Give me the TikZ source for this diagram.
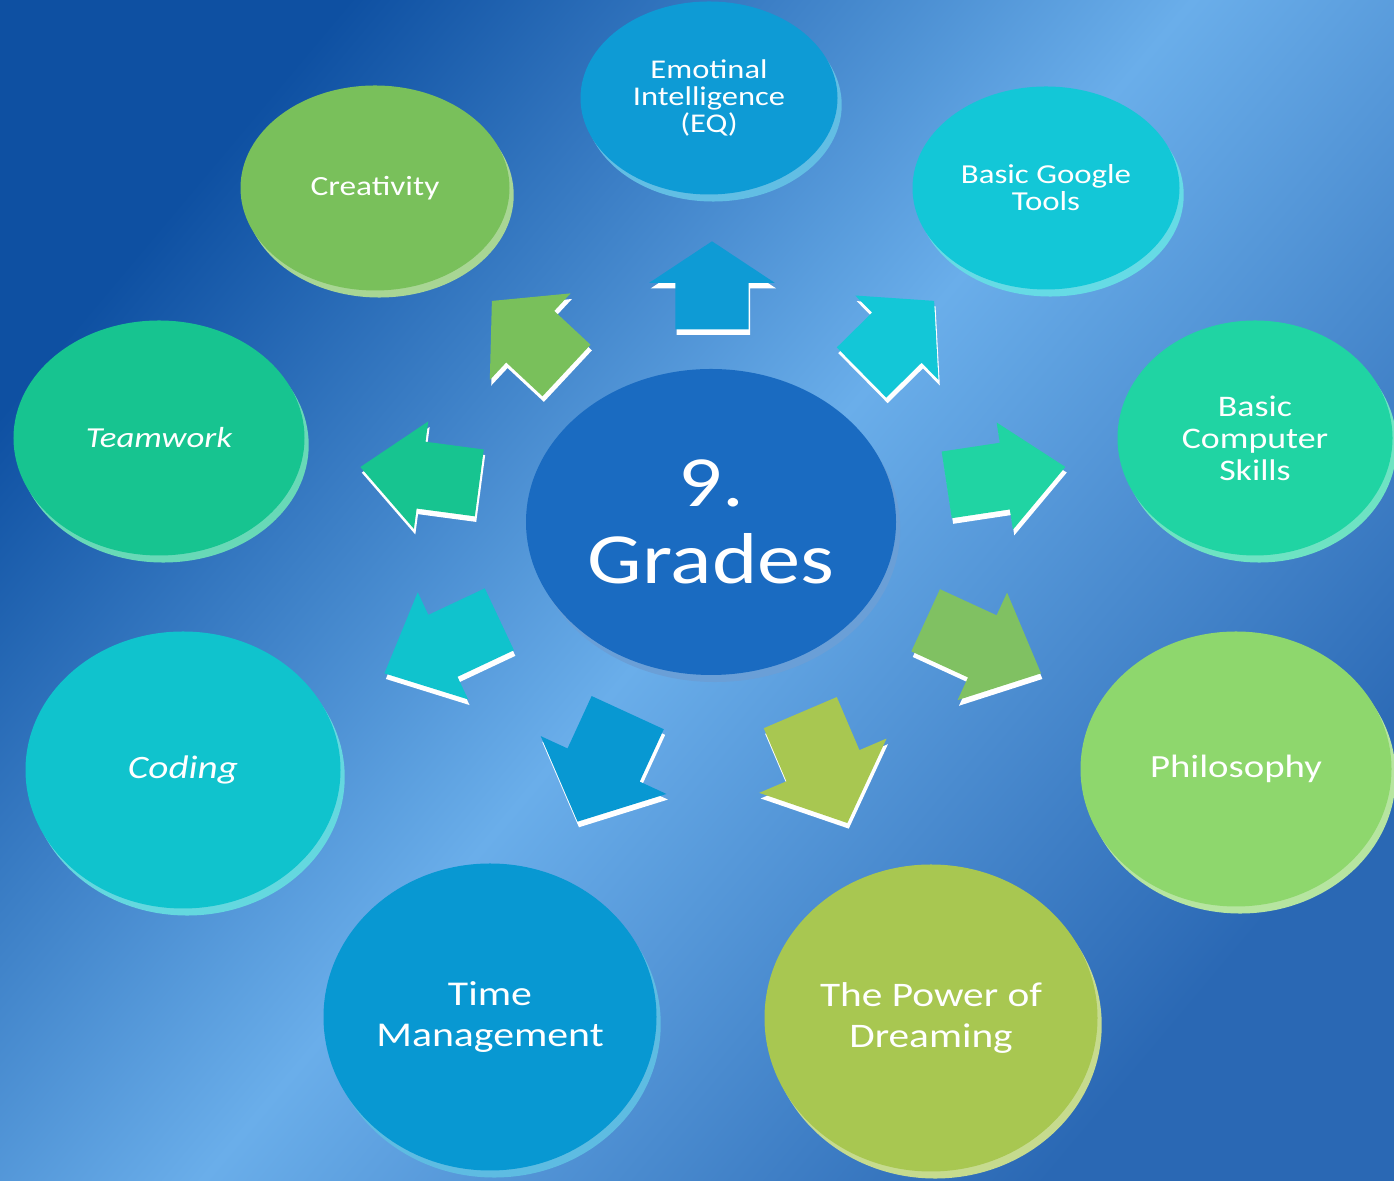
\documentclass[tikz,border=0pt]{standalone}
\usepackage{fontspec}
\setmainfont{Carlito}[FakeStretch=1.2]
\usetikzlibrary{positioning,calc,shapes.geometric,shapes.arrows,shadows}

\definecolor{bgdark}{HTML}{0E50A2}
\definecolor{bglight}{HTML}{6AAEEA}
\definecolor{bgmid}{HTML}{2A68B4}
\definecolor{hubblue}{HTML}{1A6BC1}
\definecolor{eqblue}{HTML}{0E9BD5}
\definecolor{googleteal}{HTML}{13C7D7}
\definecolor{compgreen}{HTML}{20D4A3}
\definecolor{philogreen}{HTML}{8ED76D}
\definecolor{dreamolive}{HTML}{A8C751}
\definecolor{timeblue}{HTML}{0898D2}
\definecolor{codecyan}{HTML}{10C3CD}
\definecolor{teamgreen}{HTML}{17C490}
\definecolor{creagreen}{HTML}{79C05B}

\tikzset{
  disc/.style={ellipse, inner sep=0pt, align=center, text=white, fill=#1,
    drop shadow={shadow xshift=1.2pt, shadow yshift=-2pt, fill=#1!65!white, opacity=1}},
  grarrow/.style={single arrow, anchor=tail, inner xsep=0pt, draw=none, single arrow head indent=0pt},
  arrowup/.style={grarrow, inner ysep=3.6mm, minimum height=8.8mm, minimum width=12.4mm,
    single arrow head extend=2.6mm, single arrow tip angle=113},
  arrowdiag/.style={grarrow, inner ysep=3.45mm, minimum height=10.2mm, minimum width=11.7mm,
    single arrow head extend=2.4mm, single arrow tip angle=97},
  arrowside/.style={grarrow, inner ysep=3.3mm, minimum height=12mm, minimum width=10.7mm,
    single arrow head extend=2.05mm, single arrow tip angle=83},
  arrowslant/.style={grarrow, inner ysep=3.35mm, minimum height=12.7mm, minimum width=11.7mm,
    single arrow head extend=2.5mm, single arrow tip angle=85},
  arrowdown/.style={grarrow, inner ysep=3.9mm, minimum height=12mm, minimum width=13.7mm,
    single arrow head extend=2.95mm, single arrow tip angle=96},
}
\newcommand{\gradearrow}[5]{%
  \node[#4, fill=white, rotate=#3] at ($(#2)+(0.4pt,-1.6pt)$) {};
  \node[#4, fill=#5, rotate=#3] (#1) at (#2) {};}

\begin{document}
\begin{tikzpicture}
  % background
  \shade[top color=bgdark, bottom color=bgmid, middle color=bglight, shading angle=50]
    (0,0) rectangle (13.94,11.81);
  \useasboundingbox (0,0) rectangle (13.94,11.81);

  % centre
  \node[disc=hubblue, minimum width=37mm, minimum height=30.6mm,
    font=\fontsize{20.5}{22}\selectfont] (hub) at (7.11,6.59) {9.\\Grades};

  % topics
  \node[disc=eqblue, minimum width=25.7mm, minimum height=19.3mm,
    font=\fontsize{7.7}{7.6}\selectfont] (eq) at (7.09,10.83) {Emotinal\\Intelligence\\(EQ)};
  \node[disc=googleteal, minimum width=26.7mm, minimum height=20.3mm,
    font=\fontsize{7.8}{7.7}\selectfont] (google) at (10.46,9.93) {Basic Google\\Tools};
  \node[disc=compgreen, minimum width=27.5mm, minimum height=23.5mm,
    font=\fontsize{8.5}{9.1}\selectfont] (computer) at (12.55,7.43) {Basic\\Computer\\Skills};
  \node[disc=philogreen, minimum width=31.1mm, minimum height=27.5mm,
    font=\fontsize{9.2}{11}\selectfont] (philo) at (12.36,4.12) {Philosophy};
  \node[disc=dreamolive, minimum width=33.3mm, minimum height=30.7mm,
    font=\fontsize{9.8}{11.9}\selectfont] (dream) at (9.31,1.63) {The Power of\\Dreaming};
  \node[disc=timeblue, minimum width=33.3mm, minimum height=30.7mm,
    font=\fontsize{9.9}{11.9}\selectfont] (time) at (4.90,1.64) {Time\\Management};
  \node[disc=codecyan, minimum width=31.5mm, minimum height=27.7mm,
    font=\fontsize{9.3}{11}\selectfont\itshape] (coding) at (1.83,4.11) {Coding};
  \node[disc=teamgreen, minimum width=29.1mm, minimum height=23.5mm,
    font=\fontsize{8.25}{10}\selectfont\itshape] (team) at (1.59,7.43) {Teamwork};
  \node[disc=creagreen, minimum width=26.9mm, minimum height=20.5mm,
    font=\fontsize{7.9}{9}\selectfont] (crea) at (3.75,9.93) {Creativity};

  % arrows out of the centre (placed by their tails)
  \gradearrow{arEQ}{7.12,8.51}{90}{arrowup}{eqblue}
  \gradearrow{arGoogle}{8.61,8.08}{44.6}{arrowdiag}{googleteal}
  \gradearrow{arComputer}{9.46,6.96}{8.6}{arrowside}{compgreen}
  \gradearrow{arPhilo}{9.25,5.61}{-24.7}{arrowslant}{philogreen!90!black}
  \gradearrow{arDream}{8.00,4.69}{-66.9}{arrowdown}{dreamolive}
  \gradearrow{arTime}{6.28,4.69}{-114.7}{arrowdown}{timeblue}
  \gradearrow{arCoding}{5.00,5.62}{-154.8}{arrowslant}{codecyan}
  \gradearrow{arTeam}{4.80,6.98}{172.4}{arrowside}{teamgreen}
  \gradearrow{arCrea}{5.67,8.10}{137}{arrowdiag}{creagreen}
\end{tikzpicture}
\end{document}
